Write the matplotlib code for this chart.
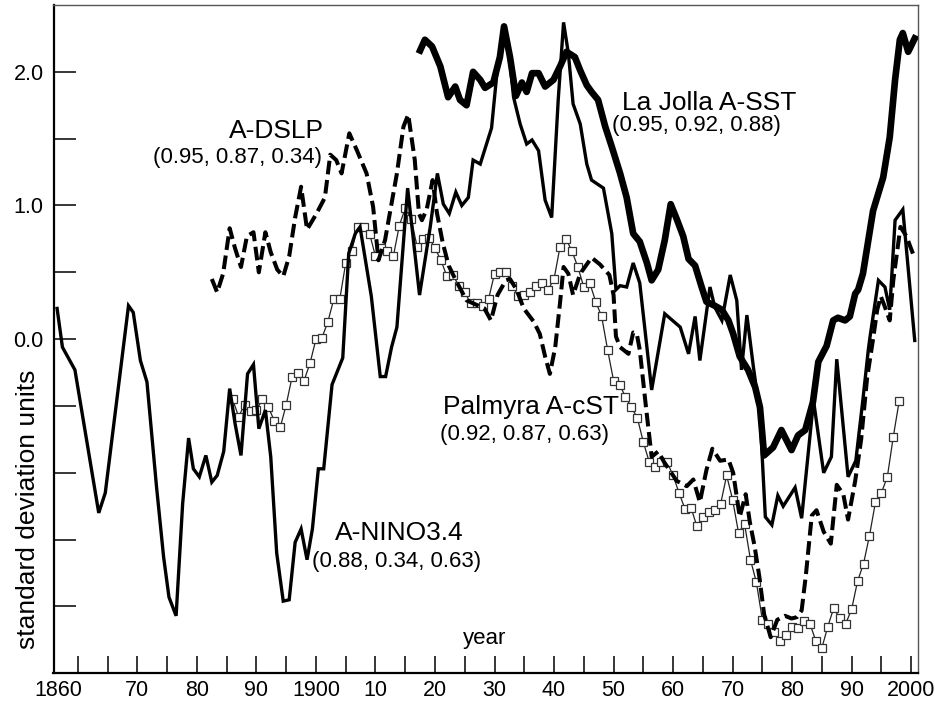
import numpy as np
import matplotlib
matplotlib.use("Agg")
import matplotlib.pyplot as plt
from matplotlib.transforms import ScaledTranslation

plt.rcParams['font.family'] = ['Liberation Sans', 'DejaVu Sans']

# ---------------- data ----------------
nino_years = [1856.5, 1857.4, 1859.5, 1863.5, 1864.6, 1868.5, 1869.3, 1870.5, 1871.6, 1873.2,
              1874.4, 1875.3, 1876.5, 1877.6, 1878.6, 1879.4, 1880.4, 1881.5, 1882.5, 1883.4,
              1884.5, 1885.5, 1886.4, 1887.4, 1888.5, 1889.5, 1890.4, 1891.5, 1892.4, 1893.4,
              1894.5, 1895.5, 1896.5, 1897.5, 1898.5, 1899.4, 1900.4, 1901.3, 1902.7, 1904.5,
              1905.5, 1906.6, 1907.4, 1909.3, 1910.8, 1911.7, 1912.7, 1913.6, 1915.4, 1917.4,
              1919.2, 1920.4, 1921.4, 1922.4, 1923.5, 1924.5, 1925.6, 1926.4, 1927.6, 1929.5,
              1930.4, 1931.6, 1932.3, 1933.2, 1934.3, 1935.4, 1936.3, 1937.4, 1938.5, 1939.6,
              1940.7, 1941.6, 1942.4, 1943.2, 1944.4, 1945.5, 1946.3, 1948.3, 1949.7, 1950.4,
              1951.1, 1952.2, 1953.3, 1954.4, 1956.4, 1958.6, 1961.2, 1962.6, 1963.7, 1964.5,
              1966.2, 1967.0, 1968.2, 1969.6, 1970.7, 1971.5, 1972.4, 1973.5, 1974.6, 1975.5,
              1976.6, 1977.6, 1978.5, 1980.5, 1981.6, 1983.6, 1985.3, 1986.6, 1987.5, 1989.4,
              1990.7, 1991.9, 1992.8, 1993.1, 1994.5, 1995.6, 1996.4, 1997.3, 1998.6, 2000.6]
nino_values = [0.23, -0.06, -0.23, -1.30, -1.15, 0.25, 0.20, -0.16, -0.32, -1.10,
               -1.63, -1.93, -2.07, -1.23, -0.74, -0.97, -1.03, -0.87, -1.07, -1.02,
               -0.84, -0.37, -0.63, -0.87, -0.26, -0.19, -0.67, -0.53, -0.88, -1.60,
               -1.96, -1.95, -1.52, -1.42, -1.65, -1.42, -0.97, -0.97, -0.34, -0.14,
               0.64, 0.79, 0.84, 0.32, -0.28, -0.28, -0.06, 0.09, 1.13, 0.33,
               0.84, 1.24, 1.01, 0.94, 1.10, 1.00, 1.06, 1.34, 1.31, 1.58,
               1.99, 2.34, 2.19, 1.81, 1.61, 1.46, 1.49, 1.41, 1.04, 0.91,
               1.79, 2.37, 2.14, 1.76, 1.61, 1.31, 1.19, 1.13, 0.79, 0.37,
               0.40, 0.39, 0.57, 0.42, -0.38, 0.19, 0.09, -0.11, 0.17, -0.16,
               0.39, 0.24, 0.14, 0.48, 0.29, -0.23, 0.18, -0.21, -0.56, -1.33,
               -1.39, -1.17, -1.25, -1.11, -1.34, -0.46, -1.00, -0.88, -0.15, -1.03,
               -0.91, -0.45, -0.08, 0.02, 0.44, 0.39, 0.22, 0.89, 0.97, -0.01]

lajolla_years = [1917.5, 1918.3, 1919.5, 1920.9, 1922.2, 1923.4, 1924.2, 1925.3, 1926.4, 1927.6,
                 1928.4, 1929.8, 1930.9, 1931.6, 1932.6, 1933.6, 1934.6, 1935.4, 1936.3, 1937.4,
                 1938.5, 1939.9, 1941.0, 1942.1, 1943.5, 1944.4, 1945.5, 1946.3, 1947.4, 1948.6,
                 1949.7, 1951.1, 1952.2, 1953.3, 1954.4, 1955.6, 1956.4, 1957.5, 1958.6, 1959.6,
                 1960.6, 1961.7, 1962.6, 1963.7, 1964.8, 1965.6, 1967.0, 1968.2, 1969.3, 1970.1,
                 1971.2, 1972.6, 1973.8, 1974.6, 1975.3, 1976.8, 1978.2, 1979.9, 1981.0, 1982.2,
                 1983.5, 1984.4, 1985.8, 1986.9, 1987.7, 1988.9, 1989.7, 1990.6, 1991.1, 1991.9,
                 1993.6, 1995.3, 1996.4, 1997.3, 1998.1, 1998.6, 1999.5, 2000.6]
lajolla_values = [2.16, 2.24, 2.19, 2.04, 1.81, 1.89, 1.79, 1.75, 2.00, 1.94,
                  1.88, 1.92, 2.11, 2.34, 2.11, 1.82, 1.92, 1.85, 1.99, 1.99,
                  1.89, 1.94, 2.04, 2.15, 2.11, 2.01, 1.90, 1.85, 1.79, 1.59,
                  1.44, 1.24, 1.06, 0.79, 0.73, 0.57, 0.44, 0.52, 0.74, 1.01,
                  0.90, 0.77, 0.60, 0.55, 0.39, 0.28, 0.25, 0.22, 0.14, 0.04,
                  -0.13, -0.23, -0.36, -0.51, -0.87, -0.81, -0.68, -0.83, -0.72, -0.68,
                  -0.47, -0.17, -0.05, 0.14, 0.16, 0.14, 0.17, 0.34, 0.37, 0.49,
                  0.96, 1.21, 1.51, 1.94, 2.24, 2.29, 2.15, 2.25]

dslp_years = [1882.5, 1883.4, 1884.4, 1885.5, 1886.4, 1887.4, 1888.4, 1889.5, 1890.4, 1891.5,
              1892.4, 1893.5, 1894.5, 1895.5, 1896.5, 1897.5, 1898.5, 1900.1, 1901.5, 1902.4,
              1903.4, 1904.3, 1905.6, 1906.9, 1908.5, 1909.6, 1910.5, 1911.6, 1913.6, 1914.7,
              1915.5, 1916.6, 1917.3, 1917.8, 1918.6, 1919.6, 1920.3, 1921.3, 1922.3, 1923.5,
              1925.3, 1926.8, 1928.3, 1929.4, 1930.5, 1931.9, 1932.6, 1933.7, 1934.9, 1936.6,
              1937.6, 1938.5, 1939.3, 1940.2, 1941.0, 1941.6, 1942.4, 1943.2, 1944.4, 1946.3,
              1947.7, 1949.3, 1950.0, 1950.4, 1951.1, 1952.5, 1953.3, 1953.9, 1954.4, 1955.5,
              1956.4, 1957.5, 1958.5, 1959.4, 1960.6, 1962.3, 1963.4, 1964.5, 1965.6, 1966.6,
              1967.9, 1969.3, 1970.1, 1971.2, 1972.2, 1972.9, 1973.7, 1974.5, 1975.3, 1976.4,
              1977.5, 1978.8, 1979.9, 1980.8, 1981.6, 1982.3, 1983.3, 1984.1, 1985.3, 1986.5,
              1987.5, 1988.6, 1989.4, 1990.6, 1991.6, 1992.6, 1993.6, 1994.3, 1994.9, 1995.6,
              1996.4, 1997.0, 1997.6, 1998.2, 1999.2, 2000.3]
dslp_values = [0.45, 0.35, 0.49, 0.83, 0.68, 0.54, 0.77, 0.80, 0.50, 0.80,
               0.65, 0.52, 0.47, 0.62, 0.91, 1.14, 0.82, 0.94, 1.06, 1.38,
               1.34, 1.24, 1.54, 1.41, 1.24, 0.99, 0.59, 0.74, 1.24, 1.59,
               1.68, 1.34, 0.94, 0.89, 0.97, 1.19, 0.95, 0.72, 0.55, 0.44,
               0.29, 0.26, 0.23, 0.14, 0.33, 0.44, 0.45, 0.37, 0.23, 0.13,
               0.04, -0.13, -0.26, -0.06, 0.27, 0.54, 0.49, 0.33, 0.49, 0.61,
               0.56, 0.48, 0.33, 0.02, -0.06, -0.11, 0.05, 0.04, -0.08, -0.53,
               -0.88, -0.84, -0.92, -0.98, -1.06, -1.10, -1.05, -1.22, -0.98, -0.82,
               -0.91, -0.90, -1.00, -1.33, -1.16, -1.37, -1.55, -1.78, -2.06, -2.23,
               -2.10, -2.07, -2.09, -2.08, -2.03, -1.77, -1.32, -1.28, -1.44, -1.53,
               -1.09, -1.16, -1.35, -1.06, -0.75, -0.29, 0.00, 0.22, 0.32, 0.24,
               0.14, 0.44, 0.64, 0.84, 0.77, 0.64]

palmyra_years = list(range(1886, 1999))
palmyra_values = [-0.45, -0.58, -0.49, -0.54, -0.53, -0.45, -0.51, -0.61, -0.66, -0.49,
                  -0.28, -0.25, -0.31, -0.18, 0.00, 0.01, 0.13, 0.30, 0.30, 0.57,
                  0.66, 0.84, 0.84, 0.79, 0.62, 0.68, 0.66, 0.62, 0.85, 0.98,
                  0.90, 0.69, 0.75, 0.76, 0.68, 0.59, 0.47, 0.48, 0.40, 0.35,
                  0.27, 0.27, 0.25, 0.30, 0.49, 0.50, 0.50, 0.40, 0.32, 0.33,
                  0.35, 0.40, 0.42, 0.37, 0.45, 0.69, 0.75, 0.66, 0.54, 0.39,
                  0.42, 0.28, 0.17, -0.08, -0.31, -0.34, -0.43, -0.51, -0.59, -0.77,
                  -0.92, -0.96, -0.92, -0.92, -1.02, -1.15, -1.27, -1.26, -1.40, -1.33,
                  -1.29, -1.28, -1.23, -1.02, -1.20, -1.45, -1.38, -1.65, -1.82, -2.10,
                  -2.13, -2.19, -2.26, -2.21, -2.15, -2.16, -2.11, -2.13, -2.26, -2.31,
                  -2.15, -2.01, -2.09, -2.13, -2.02, -1.81, -1.68, -1.47, -1.22, -1.15,
                  -1.03, -0.73, -0.46]

x_ticks = list(range(1860, 2001, 5))
x_labels = {1860: "1860", 1870: "70", 1880: "80", 1890: "90", 1900: "1900", 1910: "10",
            1920: "20", 1930: "30", 1940: "40", 1950: "50", 1960: "60", 1970: "70",
            1980: "80", 1990: "90", 2000: "2000"}
y_ticks = [-2.0, -1.5, -1.0, -0.5, 0.0, 0.5, 1.0, 1.5, 2.0]
y_labels = {0.0: "0.0", 1.0: "1.0", 2.0: "2.0"}

# ---------------- figure ----------------
fig = plt.figure(figsize=(9.35, 7.02), dpi=100)
ax = fig.add_axes([53.5 / 935, 1 - 673.3 / 702, (917.7 - 53.5) / 935, (673.3 - 5) / 702])

ax.plot(palmyra_years, palmyra_values, color='#222222', lw=0.9, marker='s', ms=6.0,
        mfc='white', mec='#333333', mew=0.9, zorder=2)
ax.plot(dslp_years, dslp_values, color='black', lw=2.9, dashes=(3.4, 1.4),
        dash_capstyle='butt', zorder=3)
ax.plot(nino_years, nino_values, color='black', lw=2.4, solid_joinstyle='miter', zorder=4)
ax.plot(lajolla_years, lajolla_values, color='black', lw=4.8, solid_joinstyle='round', zorder=5)

ax.set_xlim(1855.9, 2001.1)
ax.set_ylim(-2.5, 2.5)

ax.set_xticks(x_ticks)
ax.set_xticklabels([x_labels.get(t, "") for t in x_ticks])
ax.set_yticks(y_ticks)
ax.set_yticklabels([y_labels.get(t, "") for t in y_ticks])

ax.tick_params(axis='x', direction='in', length=12, width=1.1, labelsize=15.5, pad=5, top=False)
ax.tick_params(axis='y', direction='in', length=16, width=1.1, labelsize=15.5, pad=7, right=False)

# shift the first x label ("1860") left as in the reference
first = ax.get_xticklabels()[0]
first.set_horizontalalignment('right')
first.set_transform(first.get_transform() + ScaledTranslation(4 / 100, 0, fig.dpi_scale_trans))

for s in ['left', 'bottom']:
    ax.spines[s].set_linewidth(1.6)
    ax.spines[s].set_color('black')
for s in ['top', 'right']:
    ax.spines[s].set_linewidth(1.0)
    ax.spines[s].set_color('#555555')

# labels
ax.text(1885.4, 1.556, "A-DSLP", fontsize=19, ha='left', va='center')
ax.text(1872.7, 1.36, "(0.95, 0.87, 0.34)", fontsize=16, ha='left', va='center')
ax.text(1951.4, 1.77, "La Jolla A-SST", fontsize=19, ha='left', va='center')
ax.text(1949.7, 1.60, "(0.95, 0.92, 0.88)", fontsize=16, ha='left', va='center')
ax.text(1921.4, -0.51, "Palmyra A-cST", fontsize=19, ha='left', va='center')
ax.text(1920.9, -0.71, "(0.92, 0.87, 0.63)", fontsize=16, ha='left', va='center')
ax.text(1903.2, -1.45, "A-NINO3.4", fontsize=19, ha='left', va='center')
ax.text(1899.4, -1.66, "(0.88, 0.34, 0.63)", fontsize=16, ha='left', va='center')
ax.text(1928.4, -2.24, "year", fontsize=16, ha='center', va='center')

fig.text(28 / 935, 1 - 509 / 702, "standard deviation units", fontsize=19,
         rotation=90, ha='center', va='center')

fig.savefig("out.png", dpi=100)
